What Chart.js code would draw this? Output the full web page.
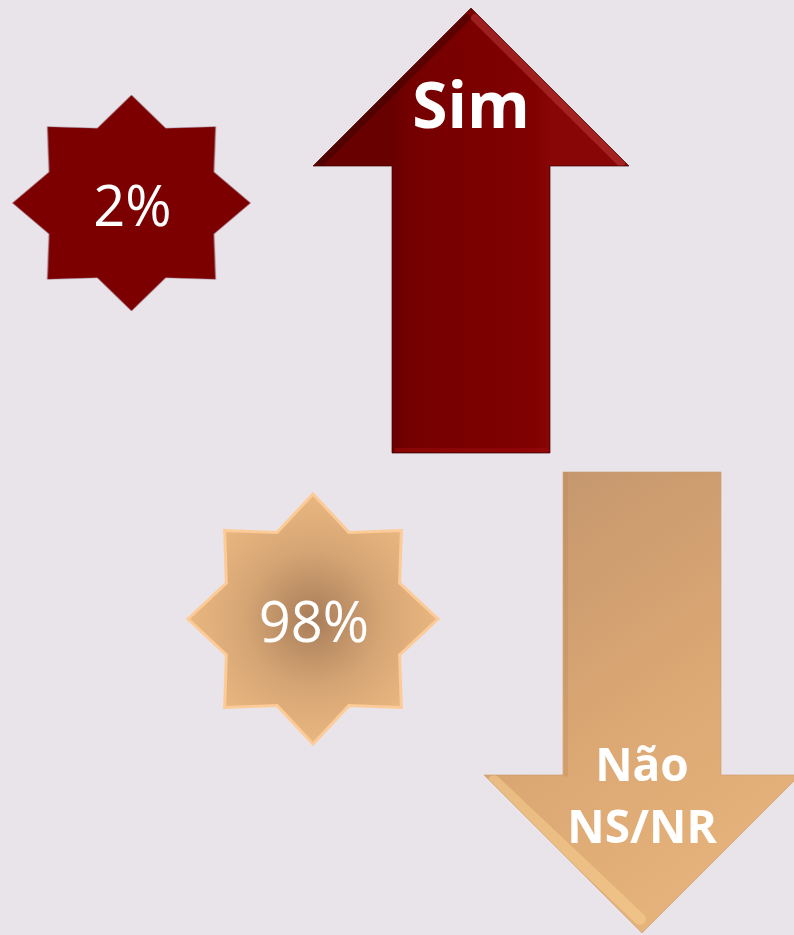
<!DOCTYPE html>
<html>
<head>
<meta charset="utf-8">
<script src="https://cdn.jsdelivr.net/npm/chart.js@4/dist/chart.umd.min.js"></script>
<style>
  html, body { margin: 0; padding: 0; background: #e8e4ea; }
  #wrap { width: 794px; height: 935px; }
</style>
</head>
<body>
<div id="wrap"><canvas id="chart" width="794" height="935"></canvas></div>
<script>
// ==========================================
// DATA
// ==========================================
const categories = [['Sim'], ['Não', 'NS/NR']];
const values = [2, 98];
const valueLabels = values.map(v => v + '%');

// ==========================================
// LAYOUT + STYLE (chart units, 1 unit = 1px)
// ==========================================
const arrowLayout = [
  { x: 471, from: 453, to: 8, labelY: 128, fontSize: 64, lineH: 62 },
  { x: 642, from: 472, to: 933, labelY: 781, fontSize: 46, lineH: 62 }
];
const starLayout = [
  { x: 131.5, y: 203, rx: 119, ry: 108 },
  { x: 313, y: 619, rx: 125, ry: 125 }
];
const SHAFT = 158;
const FONT = '"Open Sans", "Noto Sans", sans-serif';

// star image used as the point style
function starPath(ctx, cx, cy, rx, ry, inner) {
  ctx.beginPath();
  for (let k = 0; k < 16; k++) {
    const a = -Math.PI / 2 + k * Math.PI / 8;
    const f = k % 2 === 0 ? 1 : inner;
    const px = cx + Math.cos(a) * rx * f;
    const py = cy + Math.sin(a) * ry * f;
    k === 0 ? ctx.moveTo(px, py) : ctx.lineTo(px, py);
  }
  ctx.closePath();
}

function makeStar(i) {
  const s = starLayout[i];
  const c = document.createElement('canvas');
  c.width = Math.ceil(s.rx * 2 + 8);
  c.height = Math.ceil(s.ry * 2 + 8);
  const g = c.getContext('2d');
  const cx = c.width / 2, cy = c.height / 2;
  starPath(g, cx, cy, s.rx, s.ry, 0.75);
  if (i === 0) {
    g.fillStyle = '#7d0000';
    g.fill();
    g.strokeStyle = 'rgba(150,120,140,0.45)';
    g.lineWidth = 1;
    g.stroke();
  } else {
    const rg = g.createRadialGradient(cx, cy, 0, cx, cy, s.rx);
    rg.addColorStop(0, '#a97d5a');
    rg.addColorStop(0.55, '#d5a574');
    rg.addColorStop(1, '#e9b780');
    g.fillStyle = rg;
    g.fill();
    g.strokeStyle = '#fccb98';
    g.lineWidth = 3;
    g.stroke();
  }
  return c;
}
const starImages = [makeStar(0), makeStar(1)];

// ==========================================
// ARROWS (bars drawn as arrows, pointing from start to end value)
// ==========================================
function drawArrow(chart, el, i) {
  const ctx = chart.ctx;
  const ys = chart.scales.y;
  const parsed = chart.getDatasetMeta(0).controller.getParsed(i);
  const { x, width } = el.getProps(['x', 'width'], true);
  const base = ys.getPixelForValue(parsed._custom.start);
  const y = ys.getPixelForValue(parsed._custom.end);
  const dir = y < base ? -1 : 1;
  const half = width / 2, headHalf = width, headLen = width;
  const hb = y - dir * headLen;

  const outline = () => {
    ctx.beginPath();
    ctx.moveTo(x - half, base);
    ctx.lineTo(x - half, hb);
    ctx.lineTo(x - headHalf, hb);
    ctx.lineTo(x, y);
    ctx.lineTo(x + headHalf, hb);
    ctx.lineTo(x + half, hb);
    ctx.lineTo(x + half, base);
    ctx.closePath();
  };

  ctx.save();
  outline();
  if (i === 0) {
    const lg = ctx.createLinearGradient(x - half, 0, x + half, 0);
    lg.addColorStop(0, '#680000');
    lg.addColorStop(0.12, '#750000');
    lg.addColorStop(0.5, '#7b0000');
    lg.addColorStop(0.9, '#800101');
    lg.addColorStop(1, '#880606');
    ctx.fillStyle = lg;
    ctx.fill();
    ctx.clip();
    // bevel: light on the right slope, shade on the left slope
    ctx.lineCap = 'round';
    ctx.strokeStyle = 'rgba(190,60,60,0.5)';
    ctx.lineWidth = 8;
    ctx.beginPath();
    ctx.moveTo(x + 4, y + 10);
    ctx.lineTo(x + headHalf - 8, hb - 3);
    ctx.stroke();
    ctx.strokeStyle = 'rgba(50,0,0,0.4)';
    ctx.lineWidth = 7;
    ctx.beginPath();
    ctx.moveTo(x - 4, y + 10);
    ctx.lineTo(x - headHalf + 8, hb - 3);
    ctx.stroke();
    ctx.strokeStyle = 'rgba(160,10,10,0.5)';
    ctx.lineWidth = 4;
    ctx.beginPath();
    ctx.moveTo(x - half + 4, base - 3);
    ctx.lineTo(x + half - 4, base - 3);
    ctx.stroke();
    ctx.restore();
    ctx.save();
    outline();
    ctx.strokeStyle = 'rgba(60,0,0,0.7)';
    ctx.lineWidth = 1;
    ctx.stroke();
  } else {
    const lg = ctx.createLinearGradient(x - headHalf, base, x + headHalf, y);
    lg.addColorStop(0, '#c2956e');
    lg.addColorStop(0.5, '#dba773');
    lg.addColorStop(1, '#ebb87f');
    ctx.fillStyle = lg;
    ctx.fill();
    ctx.clip();
    ctx.lineCap = 'round';
    ctx.strokeStyle = 'rgba(250,215,150,0.45)';
    ctx.lineWidth = 12;
    ctx.beginPath();
    ctx.moveTo(x - headHalf + 10, hb + 6);
    ctx.lineTo(x - 2, y - 14);
    ctx.stroke();
    ctx.strokeStyle = 'rgba(180,130,85,0.25)';
    ctx.lineWidth = 4;
    ctx.beginPath();
    ctx.moveTo(x - half + 3, base);
    ctx.lineTo(x - half + 3, hb);
    ctx.stroke();
    ctx.restore();
    ctx.save();
    outline();
    ctx.strokeStyle = 'rgba(205,155,105,0.6)';
    ctx.lineWidth = 1;
    ctx.stroke();
  }
  ctx.restore();

  // category label
  const L = arrowLayout[i];
  const ly = ys.getPixelForValue(L.labelY);
  ctx.save();
  ctx.fillStyle = '#ffffff';
  ctx.font = 'bold ' + L.fontSize + 'px ' + FONT;
  ctx.textAlign = 'center';
  ctx.textBaseline = 'alphabetic';
  categories[i].forEach((line, k) => {
    ctx.fillText(line, x, ly + k * L.lineH);
  });
  ctx.restore();
}

const arrowPlugin = {
  id: 'arrows',
  beforeDatasetDraw(chart, args) {
    if (args.index !== 0) return;
    chart.getDatasetMeta(0).data.forEach((el, i) => drawArrow(chart, el, i));
    return false;
  },
  afterDatasetDraw(chart, args) {
    if (args.index !== 1) return;
    const ctx = chart.ctx;
    chart.getDatasetMeta(1).data.forEach((pt, i) => {
      ctx.save();
      ctx.fillStyle = '#ffffff';
      ctx.font = '56px ' + FONT;
      ctx.textAlign = 'center';
      ctx.textBaseline = 'alphabetic';
      ctx.fillText(valueLabels[i], pt.x + 1, pt.y + 23);
      ctx.restore();
    });
  }
};

new Chart(document.getElementById('chart'), {
  type: 'bar',
  data: {
    datasets: [
      {
        label: 'Resposta',
        data: arrowLayout.map(a => ({ x: a.x, y: [a.from, a.to] })),
        backgroundColor: ['#7c0000', '#dca874'],
        barThickness: SHAFT,
        order: 2
      },
      {
        type: 'scatter',
        label: 'Percentagem',
        data: starLayout.map(s => ({ x: s.x, y: s.y })),
        pointStyle: starImages,
        pointRadius: 10,
        pointHoverRadius: 10,
        order: 1
      }
    ]
  },
  options: {
    responsive: false,
    animation: false,
    devicePixelRatio: 1,
    layout: { padding: 0, autoPadding: false },
    plugins: { legend: { display: false }, tooltip: { enabled: false } },
    scales: {
      x: { type: 'linear', min: 0, max: 794, offset: false, display: false },
      y: { type: 'linear', min: 0, max: 935, reverse: true, display: false }
    }
  },
  plugins: [arrowPlugin]
});
</script>
</body>
</html>
